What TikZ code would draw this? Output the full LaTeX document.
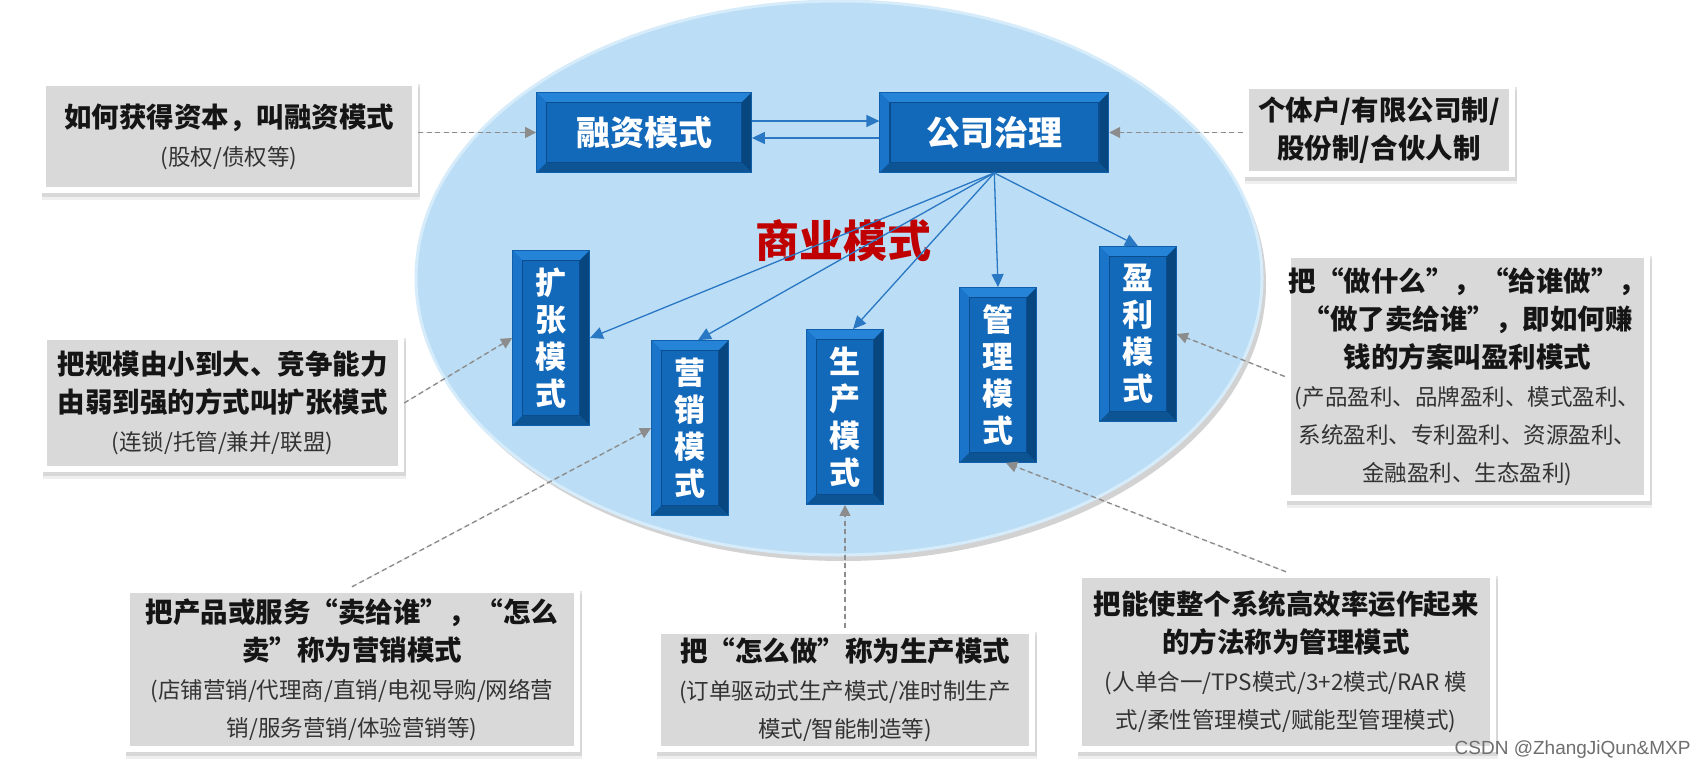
\documentclass[tikz,border=0pt]{standalone}
\usepackage{fontspec}
\setmainfont{Noto Sans CJK SC}
\newfontfamily\wmfont{Liberation Sans}
\usepackage{xcolor}
\usepackage{tikz}
\usetikzlibrary{arrows.meta,positioning,calc,shadows,shapes.geometric}

\definecolor{bxface}{HTML}{1268B9}
\definecolor{bxtop}{HTML}{2584D8}
\definecolor{bxleft}{HTML}{1A74C9}
\definecolor{bxright}{HTML}{08467F}
\definecolor{bxbottom}{HTML}{0C5494}
\definecolor{bxinner}{HTML}{0A4C8C}
\definecolor{bxedge}{HTML}{0F5FAA}
\definecolor{ellfill}{HTML}{BBDEF6}
\definecolor{ellrim}{HTML}{D6ECFA}
\definecolor{notegray}{HTML}{D9D9D9}
\definecolor{arrblue}{HTML}{2A78C4}
\definecolor{dgray}{HTML}{8C8C8C}
\definecolor{titred}{HTML}{C00000}
\definecolor{txtblack}{HTML}{151515}
\definecolor{txtgray}{HTML}{333333}
\definecolor{wmgray}{HTML}{6E6E6E}

\newcommand{\mtxt}{\fontsize{27.5}{38}\selectfont\bfseries\color{txtblack}}
\newcommand{\stxt}{\fontsize{22.5}{40}\selectfont\mdseries\color{txtgray}}

\tikzset{
  bxbevel/.style={path picture={
    \coordinate (pa) at (path picture bounding box.north west);
    \coordinate (pb) at (path picture bounding box.north east);
    \coordinate (pc) at (path picture bounding box.south east);
    \coordinate (pd) at (path picture bounding box.south west);
    \fill[bxtop] (pa) -- (pb) -- ([shift={(-10pt,-10pt)}]pb) -- ([shift={(10pt,-10pt)}]pa) -- cycle;
    \fill[bxleft] (pa) -- ([shift={(10pt,-10pt)}]pa) -- ([shift={(10pt,10pt)}]pd) -- (pd) -- cycle;
    \fill[bxright] (pb) -- (pc) -- ([shift={(-10pt,10pt)}]pc) -- ([shift={(-10pt,-10pt)}]pb) -- cycle;
    \fill[bxbottom] (pd) -- ([shift={(10pt,10pt)}]pd) -- ([shift={(-10pt,10pt)}]pc) -- (pc) -- cycle;
    \draw[bxinner, line width=1.5pt] ([shift={(10pt,-10pt)}]pa) rectangle ([shift={(-10pt,10pt)}]pc);
  }},
  bx/.style={bxbevel, fill=bxface, draw=bxedge, line width=0.8pt, inner sep=0pt, text=white,
    font=\fontsize{34}{40}\selectfont\bfseries, minimum height=80pt},
  vbx/.style={bx, align=center, minimum width=77pt, minimum height=175pt, font=\fontsize{31}{37}\selectfont\bfseries},
  note/.style={fill=white,
    drop shadow={shadow xshift=2pt, shadow yshift=-7pt, opacity=.12},
    drop shadow={shadow xshift=2pt, shadow yshift=-4pt, opacity=.2},
    path picture={\fill[notegray] ([shift={(6pt,-6pt)}]path picture bounding box.north west)
      rectangle ([shift={(-6pt,6pt)}]path picture bounding box.south east);},
    align=center, inner sep=0pt, font=\mtxt},
  bgell/.style={ellipse, fill=ellfill, draw=ellrim, line width=3pt, inner sep=0pt,
    drop shadow={shadow xshift=4pt, shadow yshift=-6pt, opacity=.35}},
  arr/.style={-{Triangle[length=13pt,width=12pt]}, line width=1.3pt, draw=arrblue, fill=arrblue},
  darr/.style={-{Triangle[length=11pt,width=11pt]}, line width=1.4pt, draw=dgray, fill=dgray, dash pattern=on 5pt off 3.5pt},
}

\begin{document}
\begin{tikzpicture}[x=1pt, y=-1pt, node distance=10pt]
\fill[white] (0,0) rectangle (1708,770);
\useasboundingbox (0,0) rectangle (1708,770);
% background ellipse
\node[bgell, minimum width=846pt, minimum height=554pt] (biz) at (839,278) {};
\node[font=\fontsize{44}{50}\selectfont\bfseries, text=titred] (title) at (843,241) {商业模式};
% blue boxes
\node[bx, minimum width=215pt] (fin) at (644,132.5) {融资模式};
\node[bx, minimum width=229pt, right=127.5pt of fin] (gov) {公司治理};
\node[vbx] (expn) at (551,338) {扩\\张\\模\\式};
\node[vbx] (mkt) at (690,428) {营\\销\\模\\式};
\node[vbx] (prod) at (845,417) {生\\产\\模\\式};
\node[vbx] (mgmt) at (998,375) {管\\理\\模\\式};
\node[vbx] (prof) at (1138,334) {盈\\利\\模\\式};
% grey notes
\node[note, minimum width=378pt, minimum height=113pt] (dfin) at (229,136.5)
  {如何获得资本，叫融资模式\\ \stxt (股权/债权等)};
\node[note, minimum width=272pt, minimum height=94pt] (dgov) at (1379,130)
  {个体户/有限公司制/\\股份制/合伙人制};
\node[note, minimum width=363pt, minimum height=138pt] (dexp) at (222.5,403)
  {把规模由小到大、竞争能力\\由弱到强的方式叫扩张模式\\ \stxt (连锁/托管/兼并/联盟)};
\node[note, minimum width=365pt, minimum height=249pt] (dprof) at (1467.5,376.5)
  {把“做什么”，“给谁做”，\\“做了卖给谁”，即如何赚\\钱的方案叫盈利模式\\ \stxt (产品盈利、品牌盈利、模式盈利、\\ \stxt 系统盈利、专利盈利、资源盈利、\\ \stxt 金融盈利、生态盈利)};
\node[note, minimum width=456pt, minimum height=165pt] (dmkt) at (352,669.5)
  {把产品或服务“卖给谁”，“怎么\\卖”称为营销模式\\ \stxt (店铺营销/代理商/直销/电视导购/网络营\\ \stxt 销/服务营销/体验营销等)};
\node[note, minimum width=380pt, minimum height=124pt] (dprod) at (845,690)
  {把“怎么做”称为生产模式\\ \stxt (订单驱动式生产模式/准时制生产\\ \stxt 模式/智能制造等)};
\node[note, minimum width=420pt, minimum height=180pt] (dmgmt) at (1286,662)
  {把能使整个系统高效率运作起来\\的方法称为管理模式\\ \stxt (人单合一/TPS模式/3+2模式/RAR 模\\ \stxt 式/柔性管理模式/赋能型管理模式)};
% solid links
\draw[arr] ([yshift=11.5pt]fin.east) -- ([yshift=11.5pt]gov.west);
\draw[arr] ([yshift=-5.5pt]gov.west) -- ([yshift=-5.5pt]fin.east);
\foreach \b/\s in {expn.east/0, mkt.north/8, prod.north/8, mgmt.north/0, prof.north/0} {\draw[arr] (gov.south) -- ([xshift=\s pt]\b);}
% dashed links
\draw[darr] (dfin.east |- fin.west) -- (fin.west);
\draw[darr] (dgov.west |- gov.east) -- (gov.east);
\foreach \a/\b in {dexp.east/expn.west, dprof.west/prof.east, dmkt.north/mkt.west, dprod.north/prod.south} {\draw[darr] (\a) -- (\b);}
\draw[darr] (dmgmt.north) -- ([xshift=8pt]mgmt.south);
\node[font=\wmfont\fontsize{19}{22}\selectfont, text=wmgray, anchor=east] (wm) at (1694,750) {CSDN @ZhangJiQun\&MXP};
\end{tikzpicture}
\end{document}
